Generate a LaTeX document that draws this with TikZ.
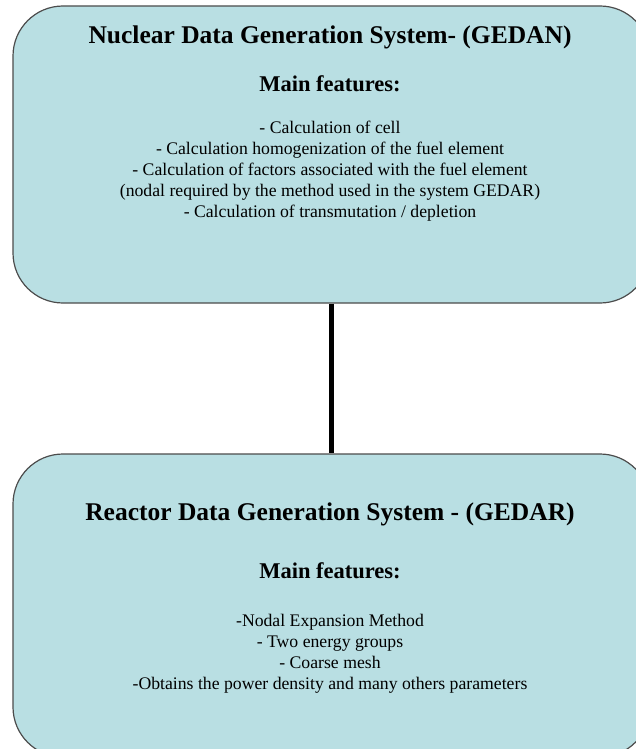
\documentclass[tikz,border=0pt]{standalone}
\usepackage{fontspec}
\setmainfont{Liberation Serif}
\usetikzlibrary{positioning}
\definecolor{paleteal}{RGB}{185,223,227}
\tikzset{
  sysbox/.style={draw=black!70,fill=paleteal,rounded corners=50pt,minimum width=637pt,line width=1.2pt},
  ttl/.style ={font=\bfseries\fontsize{25.5}{30}\selectfont,inner sep=0pt,anchor=base},
  feat/.style={font=\bfseries\fontsize{22.5}{26}\selectfont,inner sep=0pt,anchor=base},
  lst/.style ={font=\fontsize{17.7}{21}\selectfont,align=center,inner sep=0pt,anchor=base},
  link/.style={draw=black,line width=5pt},
}
\begin{document}
\begin{tikzpicture}[x=1pt,y=-1pt]
\useasboundingbox (0,0) rectangle (635,749);
% the two systems
\node[sysbox,minimum height=297pt] (gedan) at (331.5,154.5) {};
\node[sysbox,minimum height=303pt] (gedar) at (331.5,605.5) {};
\draw[link] (gedan) -- (gedar);
% nuclear data (list anchored on its last baseline)
\node[ttl] (gedanttl) at ([xshift=-1.5pt,yshift=-38pt]gedan.north) {Nuclear Data Generation System- (GEDAN)};
\node[feat] (gedanfeat) at ([xshift=-1.5pt,yshift=-86pt]gedan.north) {Main features:};
\node[lst] (gedanlst) at ([xshift=-1.5pt,yshift=-212pt]gedan.north) {- Calculation of cell\\ - Calculation homogenization of the fuel element\\ - Calculation of factors associated with the fuel element\\ (nodal required by the method used in the system GEDAR)\\ - Calculation of transmutation / depletion};
% reactor data
\node[ttl] (gedarttl) at ([xshift=-1.5pt,yshift=-67pt]gedar.north) {Reactor Data Generation System - (GEDAR)};
\node[feat] (gedarfeat) at ([xshift=-1.5pt,yshift=-125pt]gedar.north) {Main features:};
\node[lst] (gedarlst) at ([xshift=-1.5pt,yshift=-236pt]gedar.north) {-Nodal Expansion Method\\ - Two energy groups\\ - Coarse mesh\\ -Obtains the power density and many others parameters};
\end{tikzpicture}
\end{document}
